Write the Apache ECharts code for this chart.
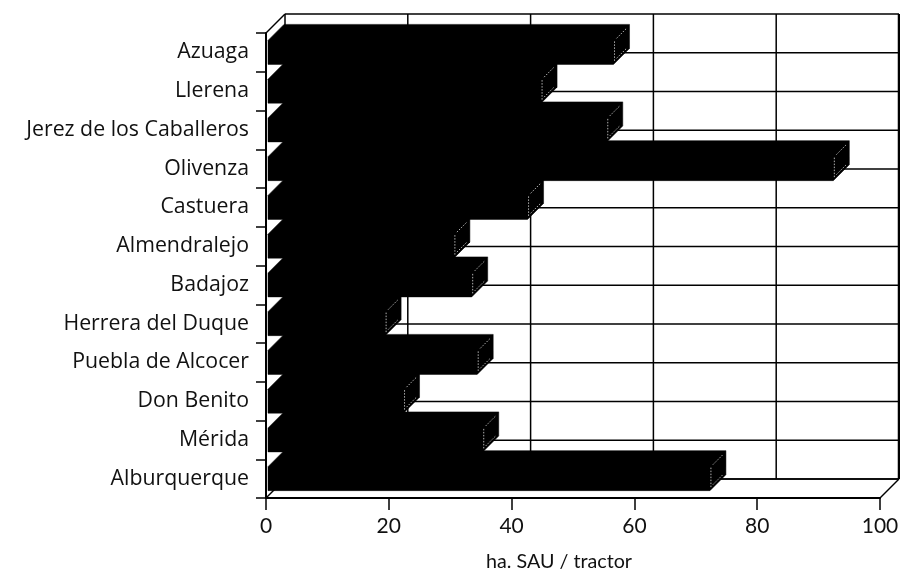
<!DOCTYPE html>
<html><head><meta charset="utf-8">
<style>html,body{margin:0;padding:0;background:#fff}#c{width:900px;height:572px}</style>
<script src="https://cdn.jsdelivr.net/npm/echarts@6/dist/echarts.min.js"></script>
</head><body><div id="c"></div>
<script>
const categories = ["Azuaga","Llerena","Jerez de los Caballeros","Olivenza","Castuera","Almendralejo","Badajoz","Herrera del Duque","Puebla de Alcocer","Don Benito","Mérida","Alburquerque"];
const values = [56.6,44.8,55.5,92.4,42.6,30.6,33.5,19.4,34.4,22.4,35.3,72.3];
const xTicks = [0,20,40,60,80,100];

const WALL = 19, DEPTH = 16, HALF = 12, INSET = 2;
const chart = echarts.init(document.getElementById('c'), null, {renderer:'canvas'});
const font = '"Open Sans"';

function line(x1,y1,x2,y2,w,c){
  return {type:'line',shape:{x1,y1,x2,y2},style:{stroke:c||'#000',lineWidth:w||1.5}};
}
function renderWallX(params, api){
  const v = api.value(0), cs = params.coordSys;
  const p = api.coord([v,0]);
  const x = p[0];
  const ch = [line(x+WALL,cs.y-WALL,x+WALL,cs.y+cs.height-WALL,1.5)];
  if(v===0){
    ch.push(line(x,cs.y,x+WALL,cs.y-WALL,1.5));
    ch.push(line(x,cs.y+cs.height,x+WALL,cs.y+cs.height-WALL,1.5));
    ch.push(line(x+WALL,cs.y-WALL,cs.x+cs.width+WALL,cs.y-WALL,1.5));
    ch.push(line(x+WALL,cs.y+cs.height-WALL,cs.x+cs.width+WALL,cs.y+cs.height-WALL,1.5));
  }
  if(v===100){
    ch.push(line(x+WALL,cs.y-WALL,x+WALL,cs.y+cs.height-WALL,2.5));
    ch.push(line(x,cs.y+cs.height,x+WALL,cs.y+cs.height-WALL,1.5));
  }
  return {type:'group',children:ch};
}
function renderWallY(params, api){
  const i = api.value(1), cs = params.coordSys;
  const p = api.coord([0,i]), band = api.size([0,1])[1];
  const y = p[1]+band/2-WALL;
  return line(cs.x+WALL,y,cs.x+cs.width+WALL,y,1.5);
}
function renderBar(params, api){
  const i = api.value(1);
  const p0 = api.coord([0,i]), p = api.coord([api.value(0),i]);
  const x0 = p0[0]+INSET, xe = p[0], cy = p[1];
  const ch = [{type:'polygon',shape:{points:[
      [x0,cy-HALF],[x0+DEPTH,cy-HALF-DEPTH],[xe+DEPTH,cy-HALF-DEPTH],
      [xe+DEPTH,cy+HALF-DEPTH],[xe,cy+HALF],[x0,cy+HALF]]},
      style:{fill:'#000',stroke:'#000',lineWidth:0.5}}];
  const hatch = {stroke:'#ddd',lineWidth:0.8,lineDash:[1.5,1.5]};
  ch.push({type:'line',shape:{x1:xe+3,y1:cy-HALF-2,x2:xe+13,y2:cy-HALF-12},style:hatch});
  ch.push({type:'line',shape:{x1:xe+3,y1:cy+HALF-6,x2:xe+13,y2:cy+HALF-16},style:hatch});
  ch.push({type:'line',shape:{x1:xe+1,y1:cy-HALF+1,x2:xe+1,y2:cy+HALF-2},style:hatch});
  return {type:'group',children:ch};
}
chart.setOption({
  animation:false,
  backgroundColor:'#fff',
  grid:{left:266,right:20,top:33,bottom:74,containLabel:false,outerBoundsMode:'none'},
  xAxis:{type:'value',min:0,max:100,interval:20,
    axisLine:{show:true,lineStyle:{color:'#000',width:2}},
    axisTick:{show:true,length:12,lineStyle:{color:'#000',width:1.5}},
    splitLine:{show:false},
    axisLabel:{color:'#111',fontFamily:'Lato',fontSize:21,margin:18},
    name:'ha. SAU / tractor',nameLocation:'middle',nameGap:54,
    nameTextStyle:{color:'#111',fontFamily:'Lato',fontSize:19.7,padding:[0,28,0,0]}},
  yAxis:{type:'category',inverse:true,data:categories,
    axisLine:{show:true,lineStyle:{color:'#000',width:2}},
    axisTick:{show:true,length:10,alignWithLabel:false,lineStyle:{color:'#000',width:1.5}},
    splitLine:{show:false},
    axisLabel:{color:'#111',fontFamily:font,fontSize:21.3,margin:17,interval:0,padding:[6,0,0,0]}},
  series:[
    {type:'custom',clip:false,z:1,silent:true,coordinateSystem:'cartesian2d',
      renderItem:renderWallX,encode:{x:0},data:xTicks.map(v=>[v,0])},
    {type:'custom',clip:false,z:1,silent:true,coordinateSystem:'cartesian2d',
      renderItem:renderWallY,data:categories.map((c,i)=>[0,i])},
    {type:'custom',clip:false,z:3,silent:true,coordinateSystem:'cartesian2d',
      renderItem:renderBar,data:values.map((v,i)=>[v,i])}
  ]
});
</script></body></html>
